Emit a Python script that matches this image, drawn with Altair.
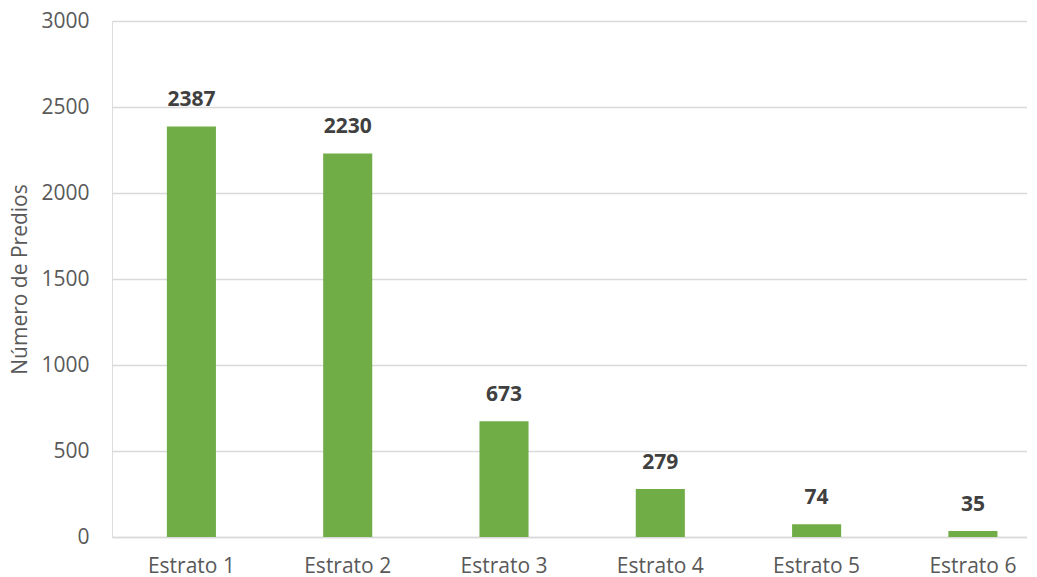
import altair as alt
import pandas as pd

categories = ["Estrato 1", "Estrato 2", "Estrato 3", "Estrato 4", "Estrato 5", "Estrato 6"]
values = [2387, 2230, 673, 279, 74, 35]
y_ticks = [0, 500, 1000, 1500, 2000, 2500, 3000]

df = pd.DataFrame({"Estrato": categories, "Predios": values})

FONT = "Open Sans"
FS = 21

x_enc = alt.X(
    "Estrato:N",
    sort=categories,
    title=None,
    scale=alt.Scale(paddingInner=0.686, paddingOuter=0.27, align=0.65),
    axis=alt.Axis(
        labelAngle=0, labelFontSize=FS, labelColor="#595959", labelFont=FONT,
        ticks=False, domain=True, domainColor="#d9d9d9", domainWidth=1.3,
        labelPadding=18, grid=False,
    ),
)
y_enc = alt.Y(
    "Predios:Q",
    title="Número de Predios",
    scale=alt.Scale(domain=[0, 3000], nice=False),
    axis=alt.Axis(
        values=y_ticks, format="d", labelFontSize=FS, labelColor="#595959", labelFont=FONT,
        ticks=False, domain=False, gridColor="#d9d9d9", gridWidth=1.3,
        labelPadding=23, titleFontSize=FS, titleColor="#595959", titleFont=FONT,
        titleFontWeight="normal", titlePadding=10,
    ),
)

bars = alt.Chart(df).mark_bar(color="#70AD47").encode(x=x_enc, y=y_enc)
labels = alt.Chart(df).mark_text(
    dy=-16, baseline="bottom", fontSize=FS, fontWeight="bold", color="#404040", font=FONT
).encode(x=alt.X("Estrato:N", sort=categories), y="Predios:Q", text="Predios:Q")

chart = (
    alt.layer(bars, labels)
    .properties(width=915, height=516, padding={"left": 1, "top": 2, "right": 0, "bottom": 0})
    .configure_view(stroke=None)
    .configure(background="white")
)

chart.save("out.html", embed_options={"renderer": "svg", "actions": False})
